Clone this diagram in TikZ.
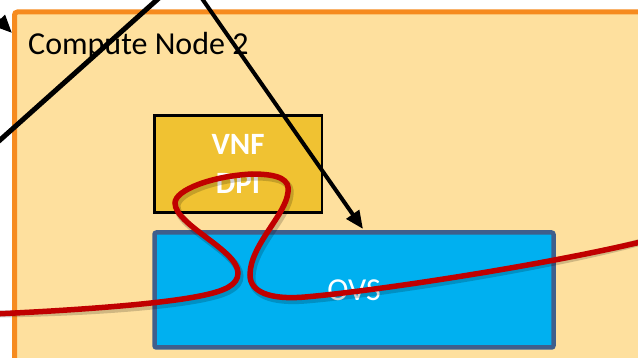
\documentclass[tikz,border=0pt]{standalone}
\usepackage{fontspec}
\setmainfont{Carlito}
\usetikzlibrary{arrows.meta}
\definecolor{cnfill}{RGB}{254,224,158}
\definecolor{cnedge}{RGB}{246,139,31}
\definecolor{vnffill}{RGB}{240,194,50}
\definecolor{ovsfill}{RGB}{0,176,240}
\definecolor{ovsedge}{RGB}{63,95,140}
\definecolor{flowred}{RGB}{192,0,0}
\tikzset{
  cnbox/.style={draw=cnedge, fill=cnfill, line width=5pt, rounded corners=3pt, inner sep=0pt},
  vnfbox/.style={draw=black, fill=vnffill, line width=2.5pt, inner sep=0pt},
  ovsbox/.style={draw=ovsedge, fill=ovsfill, line width=4.5pt, rounded corners=2pt, inner sep=0pt},
  lbl/.style={inner sep=0pt, font=\fontsize{32}{36}\selectfont},
  wlbl/.style={lbl, text=white},
  wblbl/.style={lbl, text=white, font=\fontsize{31}{36}\selectfont\bfseries},
  pointer/.style={draw=black, line width=4pt, -{Triangle[length=18pt,width=15pt]}},
  plainline/.style={draw=black, line width=5pt},
  flow/.style={draw=flowred, line width=5.5pt},
  flowshadow/.style={draw=black, opacity=0.18, line width=7pt}
}
\begin{document}
\begin{tikzpicture}[x=1pt,y=-1pt]
\useasboundingbox (0,0) rectangle (638,358);
\clip (0,0) rectangle (638,358);
% compute node
\node[cnbox, minimum width=705.5pt, minimum height=408pt] (cn) at (367.25,216) {};
\node[lbl, anchor=base west] (cnlabel) at (28,55) {Compute Node 2};
% VNF box
\node[vnfbox, minimum width=167.5pt, minimum height=97pt] (vnf) at (238.25,164) {};
\node[wblbl, anchor=base] (vnft) at (238,155) {VNF};
\node[wblbl, anchor=base] (dpit) at (238,194) {DPI};
% OVS box
\node[ovsbox, minimum width=399pt, minimum height=115pt] (ovs) at (354,290) {};
\node[wlbl, anchor=base] (ovst) at (354,301) {OVS};
% black connectors
\coordinate (a1s) at (-10,149);
\coordinate (a1e) at (168,-10);
\draw[plainline] (a1s) -- (a1e);
\coordinate (a2s) at (196,-10);
\coordinate (a2e) at (363,229);
\draw[pointer] (a2s) -- (a2e);
\coordinate (a3s) at (-40,-19);
\coordinate (a3e) at (12,33);
\draw[pointer] (a3s) -- (a3e);
% red flow
\coordinate (r0) at (-5,314);
\coordinate (r1) at (645,241);
\begin{scope}[shift={(2,3)}]
\draw[flowshadow] (r0) .. controls (80,310) and (160,304) .. (200,296)
 .. controls (225,291) and (238,285) .. (238,273)
 .. controls (238,250) and (175,225) .. (175,203)
 .. controls (175,190) and (212,176) .. (252,174)
 .. controls (280,174) and (290,180) .. (288,192)
 .. controls (286,215) and (250,245) .. (250,275)
 .. controls (250,292) and (270,300) .. (305,297)
 .. controls (375,291) and (540,266) .. (r1);
\end{scope}
\draw[flow] (r0) .. controls (80,310) and (160,304) .. (200,296)
 .. controls (225,291) and (238,285) .. (238,273)
 .. controls (238,250) and (175,225) .. (175,203)
 .. controls (175,190) and (212,176) .. (252,174)
 .. controls (280,174) and (290,180) .. (288,192)
 .. controls (286,215) and (250,245) .. (250,275)
 .. controls (250,292) and (270,300) .. (305,297)
 .. controls (375,291) and (540,266) .. (r1);
\end{tikzpicture}
\end{document}
